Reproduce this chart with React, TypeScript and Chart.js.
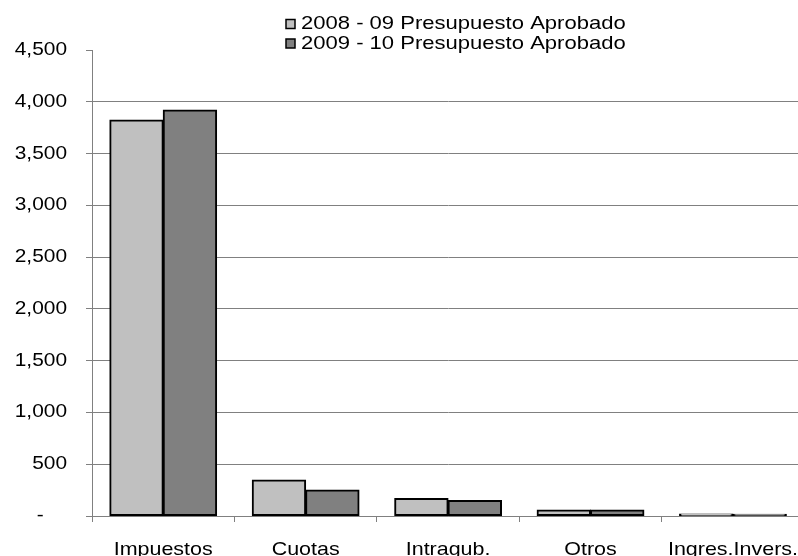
import React, { useEffect, useRef } from 'react';
import { Chart, registerables } from 'chart.js';

Chart.register(...registerables);

const categories = ['Impuestos', 'Cuotas', 'Intragub.', 'Otros', 'Ingres.Invers.'];
const seriesNames = ['2008 - 09 Presupuesto Aprobado', '2009 - 10 Presupuesto Aprobado'];
const values0809 = [3825, 347, 170, 58, 20];
const values0910 = [3920, 251, 150, 57, 18];
const seriesColors = ['#C0C0C0', '#808080'];
const yMin = 0;
const yMax = 4500;
const yStep = 500;

const FONT = '"Liberation Sans", Arial, sans-serif';
const STRETCH = 1.16;

const stretchTextPlugin = {
  id: 'stretchText',
  beforeDraw(chart: any) {
    const ctx = chart.ctx as any;
    if (ctx.__stretched) return;
    const orig = ctx.fillText;
    ctx.fillText = function (text: string, x: number, y: number, maxWidth?: number) {
      this.save();
      this.translate(x, y);
      this.scale(STRETCH, 1);
      if (maxWidth === undefined || maxWidth === null) orig.call(this, text, 0, 0);
      else orig.call(this, text, 0, 0, maxWidth / STRETCH);
      this.restore();
    };
    ctx.__stretched = true;
  },
};

const legendPlugin = {
  id: 'stackedLegend',
  afterDraw(chart: any) {
    const ctx = chart.ctx;
    ctx.save();
    chart.data.datasets.forEach((ds: any, i: number) => {
      const cy = 24 + i * 19.5;
      ctx.fillStyle = ds.backgroundColor;
      ctx.fillRect(286, cy - 4.5, 9, 9);
      ctx.strokeStyle = '#000';
      ctx.lineWidth = 1.5;
      ctx.strokeRect(286, cy - 4.5, 9, 9);
      ctx.fillStyle = '#000';
      ctx.font = `19px ${FONT}`;
      ctx.textAlign = 'left';
      ctx.textBaseline = 'middle';
      ctx.fillText(ds.label, 301, cy);
    });
    ctx.restore();
  },
};

export default function App() {
  const ref = useRef<HTMLCanvasElement | null>(null);

  useEffect(() => {
    if (!ref.current) return;
    const chart = new Chart(ref.current, {
      type: 'bar',
      data: {
        labels: categories,
        datasets: [
          {
            label: seriesNames[0],
            data: values0809,
            backgroundColor: seriesColors[0],
            borderColor: '#000',
            borderWidth: 2,
            borderSkipped: false,
            inflateAmount: 0.5,
          },
          {
            label: seriesNames[1],
            data: values0910,
            backgroundColor: seriesColors[1],
            borderColor: '#000',
            borderWidth: 2,
            borderSkipped: false,
            inflateAmount: 0.5,
          },
        ],
      },
      options: {
        responsive: false,
        animation: false,
        devicePixelRatio: 1,
        layout: { padding: { top: 50, right: 0, bottom: 0, left: 0 } },
        plugins: {
          legend: { display: false },
          tooltip: { enabled: false },
        },
        datasets: {
          bar: { categoryPercentage: 0.75, barPercentage: 1.0 },
        },
        scales: {
          x: {
            offset: true,
            grid: {
              display: true,
              drawOnChartArea: false,
              drawTicks: true,
              tickLength: 6,
              tickColor: '#808080',
              offset: true,
            },
            border: { display: true, color: '#808080', width: 1 },
            ticks: {
              font: { family: FONT, size: 18.5 },
              color: '#000',
              padding: 17,
              autoSkip: false,
              maxRotation: 0,
              minRotation: 0,
            },
            afterFit: (scale: any) => {
              scale.height = 40;
            },
          },
          y: {
            min: yMin,
            max: yMax,
            grid: {
              color: (c: any) => (c.tick && c.tick.value === yMax ? 'rgba(0,0,0,0)' : '#808080'),
              tickColor: '#808080',
              tickLength: 6,
              lineWidth: 1,
            },
            border: { display: true, color: '#808080', width: 1 },
            ticks: {
              stepSize: yStep,
              font: { family: FONT, size: 18 },
              color: '#000',
              padding: 19,
              callback: (v: any) => (Number(v) === 0 ? '-    ' : Number(v).toLocaleString('en-US')),
            },
            afterFit: (scale: any) => {
              scale.width = 92;
            },
          },
        },
      },
      plugins: [stretchTextPlugin, legendPlugin],
    });
    return () => chart.destroy();
  }, []);

  return (
    <div
      style={{
        position: 'absolute',
        left: 0,
        top: 0,
        width: 798,
        height: 556,
        overflow: 'hidden',
        background: '#fff',
      }}
    >
      <canvas ref={ref} width={806} height={556} style={{ display: 'block', width: 806, height: 556 }} />
    </div>
  );
}
